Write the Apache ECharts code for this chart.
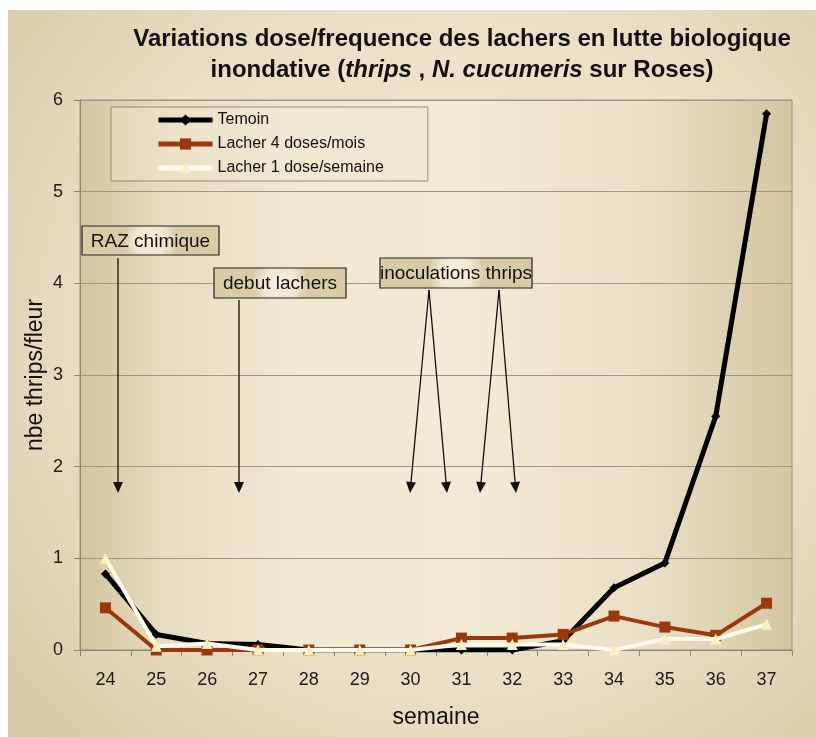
<!DOCTYPE html>
<html><head><meta charset="utf-8">
<script src="https://cdn.jsdelivr.net/npm/echarts@6/dist/echarts.min.js"></script>
<style>html,body{margin:0;padding:0;background:#fff}#c{width:816px;height:737px}</style>
</head><body><div id="c"></div>
<script>
const weeks = ['24','25','26','27','28','29','30','31','32','33','34','35','36','37'];
const temoin = [0.83,0.17,0.07,0.06,0,0,0,0,0,0.1,0.68,0.95,2.55,5.85];
const lacher4 = [0.46,0,0,0,0,0,0,0.13,0.13,0.17,0.37,0.25,0.16,0.51];
const lacher1 = [1.0,0.04,0.07,0,0,0,0,0.06,0.06,0.06,0,0.12,0.12,0.28];
const seriesNames = ['Temoin','Lacher 4 doses/mois','Lacher 1 dose/semaine'];
const yTicks = [0,1,2,3,4,5,6];

const chart = echarts.init(document.getElementById('c'));
const FONT = '"Liberation Sans", Arial, sans-serif';

function box(x, y, w, h, text) {
  return [
    {type:'rect', shape:{x:x, y:y, width:w, height:h}, z:100,
     style:{fill:{type:'radial', x:0.5, y:0.5, r:0.9, colorStops:[{offset:0,color:'#f5efde'},{offset:0.6,color:'#efe7d1'},{offset:1,color:'#d8cba6'}]},
       stroke:'#222', lineWidth:1.2}},
    {type:'text', x:x + w/2, y:y + h/2 + 1, z:101,
     style:{text:text, fontFamily:FONT, fontSize:19, fill:'#111', align:'center', verticalAlign:'middle'}}
  ];
}
function arrow(x1, y1, x2, y2) {
  const ang = Math.atan2(y2 - y1, x2 - x1);
  const L = 11, W = 5;
  const bx = x2 - L*Math.cos(ang), by = y2 - L*Math.sin(ang);
  const px = -Math.sin(ang)*W, py = Math.cos(ang)*W;
  return [
    {type:'line', z:100, shape:{x1:x1,y1:y1,x2:bx,y2:by}, style:{stroke:'#111', lineWidth:1.3}},
    {type:'polygon', z:100, shape:{points:[[x2,y2],[bx+px,by+py],[bx-px,by-py]]}, style:{fill:'#111'}}
  ];
}

const graphics = [
  {type:'rect', z:-10, shape:{x:8, y:10, width:808, height:727},
   style:{fill:{type:'radial', x:0.55, y:0.45, r:0.8, colorStops:[{offset:0,color:'#f3ebd8'},{offset:0.6,color:'#e9dfc4'},{offset:1,color:'#d6caa6'}]}}},
  {type:'rect', z:-9, shape:{x:80, y:100, width:712, height:550},
   style:{fill:{type:'linear', x:0, y:0, x2:1, y2:0, colorStops:[{offset:0,color:'#d2c59f'},{offset:0.12,color:'#e6dcc0'},{offset:0.3,color:'#f1e8d2'},{offset:0.55,color:'#f3ead5'},{offset:0.8,color:'#e9dfc5'},{offset:1,color:'#d3c6a0'}]},
     stroke:'#9a9482', lineWidth:1}},
  ...box(82, 226, 137, 29, 'RAZ chimique'),
  ...arrow(118, 258, 118, 493),
  ...box(214, 268, 132, 30, 'debut lachers'),
  ...arrow(239, 300, 239, 493),
  ...box(380, 258, 152, 30, 'inoculations thrips'),
  ...arrow(429, 290, 410, 493),
  ...arrow(429, 290, 447, 493),
  ...arrow(499, 290, 480, 493),
  ...arrow(499, 290, 516, 493)
];

chart.setOption({
  backgroundColor: '#fff',
  animation: false,
  textStyle: {fontFamily: FONT},
  title: {
    left: 457, top: 19, textAlign: 'center',
    text: 'Variations dose/frequence des lachers en lutte biologique\ninondative ({i|thrips} , {i|N. cucumeris} sur Roses)',
    textStyle: {
      fontFamily: FONT, fontSize: 24, fontWeight: 'bold', color: '#111', lineHeight: 31,
      rich: {i: {fontFamily: FONT, fontSize: 24, fontWeight: 'bold', fontStyle: 'italic', color: '#111', lineHeight: 31}}
    }
  },
  legend: {
    orient: 'vertical', left: 111, top: 107,
    padding: [5, 44, 5, 45],
    itemWidth: 54, itemHeight: 14, itemGap: 8,
    borderColor: '#8f897a', borderWidth: 1, backgroundColor: 'rgba(240,232,212,0.35)',
    lineStyle: {width: 5},
    textStyle: {fontFamily: FONT, fontSize: 16, color: '#111'},
    data: seriesNames
  },
  grid: {left: 80, top: 100, right: 24, bottom: 87, containLabel: false},
  xAxis: {
    type: 'category', data: weeks, boundaryGap: true,
    name: 'semaine', nameLocation: 'middle', nameGap: 56,
    nameTextStyle: {fontFamily: FONT, fontSize: 23, color: '#111'},
    axisLine: {lineStyle: {color: '#8a8577', width: 1}},
    axisTick: {show: true, length: 6, lineStyle: {color: '#8a8577'}},
    axisLabel: {fontFamily: FONT, fontSize: 18, color: '#1a1a1a', margin: 21}
  },
  yAxis: {
    type: 'value', min: yTicks[0], max: yTicks[yTicks.length-1], interval: 1,
    name: 'nbe thrips/fleur', nameLocation: 'middle', nameGap: 33, nameMoveOverlap: false,
    nameTextStyle: {fontFamily: FONT, fontSize: 23, color: '#111'},
    axisLine: {show: true, lineStyle: {color: '#8a8577', width: 1}},
    axisTick: {show: true, length: 6, lineStyle: {color: '#8a8577'}},
    axisLabel: {fontFamily: FONT, fontSize: 18, color: '#1a1a1a', margin: 17},
    splitLine: {show: true, lineStyle: {color: '#9c9686', width: 1}}
  },
  series: [
    {name: seriesNames[0], type: 'line', data: temoin, symbol: 'diamond', symbolSize: 9,
     lineStyle: {color: '#000', width: 5}, itemStyle: {color: '#000'}, z: 3},
    {name: seriesNames[1], type: 'line', data: lacher4, symbol: 'rect', symbolSize: 11,
     lineStyle: {color: '#9c370c', width: 4}, itemStyle: {color: '#9c370c'}, z: 4},
    {name: seriesNames[2], type: 'line', data: lacher1, symbol: 'triangle', symbolSize: 11,
     lineStyle: {color: '#fffbea', width: 4}, itemStyle: {color: '#f7f1bf'}, z: 5}
  ],
  graphic: graphics
});
</script></body></html>
